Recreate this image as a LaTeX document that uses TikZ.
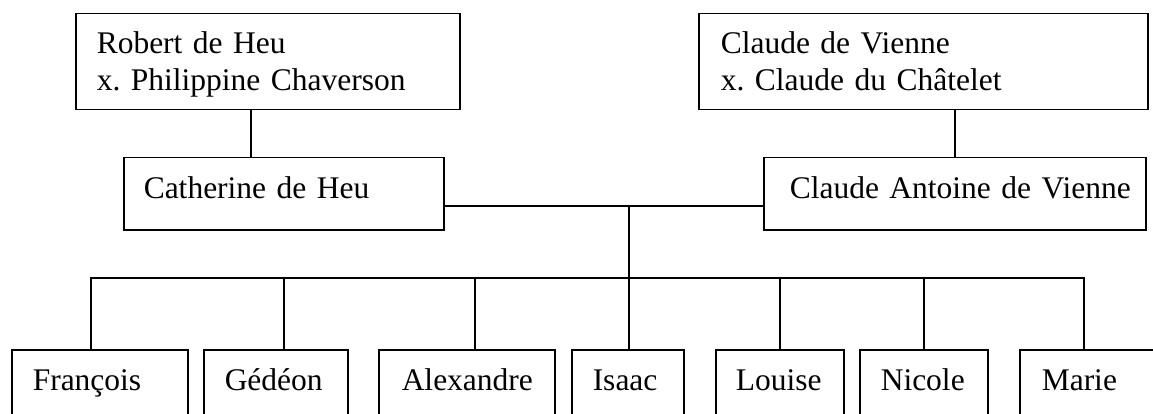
\documentclass[tikz,border=0pt]{standalone}
\usepackage{fontspec}
\setmainfont{Liberation Serif}
\frenchspacing
\begin{document}
\begin{tikzpicture}[x=1pt,y=-1pt,
  box/.style={draw=black, line width=1.5pt, anchor=north west, inner ysep=0pt, align=left, font=\fontsize{31.5}{37}\selectfont\frenchspacing},
  link/.style={draw=black, line width=1.5pt},
  two/.style={text height=40pt, text depth=56pt},
  one/.style={text height=41pt, text depth=31pt}]
\clip (0,0) rectangle (1153,414);
\useasboundingbox (0,0) rectangle (1153,414);
% parents
\node[box,two,inner xsep=21pt,text width=342pt] (rob) at (75,13) {Robert de Heu\\x. Philippine Chaverson};
\node[box,two,inner xsep=22pt,text width=405pt] (cdv) at (698,13) {Claude de Vienne\\x. Claude du Châtelet};
\node[box,one,inner xsep=20pt,text width=280pt] (cat) at (123,157) {\mbox{Catherine de Heu}};
\node[box,one,inner xsep=26pt,text width=330pt] (cav) at (763,157) {\mbox{Claude Antoine de Vienne}};
% children
\node[box,one,inner xsep=21pt,text width=134pt] (fr) at (11,349) {\mbox{François}};
\node[box,one,inner xsep=21pt,text width=102pt] (ge) at (203,349) {\mbox{Gédéon}};
\node[box,one,inner xsep=23pt,text width=130pt] (al) at (378,349) {\mbox{Alexandre}};
\node[box,one,inner xsep=21pt,text width=70pt] (is) at (571,349) {\mbox{Isaac}};
\node[box,one,inner xsep=20pt,text width=88pt] (lo) at (715,349) {\mbox{Louise}};
\node[box,one,inner xsep=21pt,text width=86pt] (ni) at (859,349) {\mbox{Nicole}};
\node[box,one,inner xsep=22pt,text width=116pt] (ma) at (1019,349) {\mbox{Marie}};
% connectors
\draw[link] ([xshift=176pt]rob.south west) -- ([xshift=176pt]rob.south west |- cat.north);
\draw[link] ([xshift=257pt]cdv.south west) -- ([xshift=257pt]cdv.south west |- cav.north);
\draw[link] ([yshift=-12pt]cat.east) -- ([yshift=-12pt]cat.east -| cav.west);
\coordinate (mid) at (629,205);
\coordinate (bus) at (0,278);
\draw[link] (mid) -- (mid |- is.north);
\draw[link] ([xshift=80pt]fr.north west) |- ([xshift=65pt]ma.north west |- bus) -- ([xshift=65pt]ma.north west);
\draw[link] ([xshift=81pt]ge.north west) -- ([xshift=81pt]ge.north west |- bus);
\draw[link] ([xshift=97pt]al.north west) -- ([xshift=97pt]al.north west |- bus);
\draw[link] ([xshift=65pt]lo.north west) -- ([xshift=65pt]lo.north west |- bus);
\draw[link] ([xshift=65pt]ni.north west) -- ([xshift=65pt]ni.north west |- bus);
\end{tikzpicture}
\end{document}
